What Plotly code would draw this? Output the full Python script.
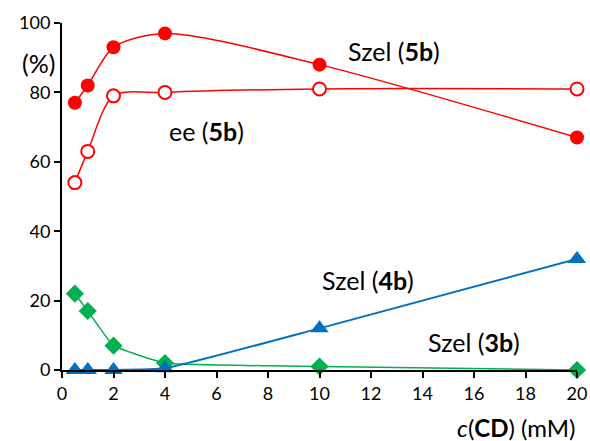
import plotly.graph_objects as go

conc = [0.5, 1, 2, 4, 10, 20]
szel_5b = [77, 82, 93, 97, 88, 67]
ee_5b = [54, 63, 79, 80, 81, 81]
szel_4b = [0, 0, 0, 0.5, 12, 32]
szel_3b = [22, 17, 7, 2, 1, 0]

x_ticks = list(range(0, 21, 2))
y_ticks = list(range(0, 101, 20))

FONT = "Lato"
RED = "#FF0000"
BLUE = "#0070C0"
GREEN = "#00B050"

fig = go.Figure()
fig.add_trace(go.Scatter(x=conc, y=szel_3b, mode="lines+markers",
                         line=dict(color=GREEN, width=1.5, shape="spline", smoothing=0.3),
                         marker=dict(symbol="diamond", size=14, color=GREEN),
                         cliponaxis=False))
fig.add_trace(go.Scatter(x=conc, y=szel_4b, mode="lines+markers",
                         line=dict(color=BLUE, width=2, shape="spline", smoothing=0.4),
                         marker=dict(symbol="triangle-up", size=16, color=BLUE),
                         cliponaxis=False))
fig.add_trace(go.Scatter(x=conc, y=ee_5b, mode="lines+markers",
                         line=dict(color=RED, width=1.5, shape="spline", smoothing=0.8),
                         marker=dict(symbol="circle", size=13, color="white",
                                     line=dict(color=RED, width=2)),
                         cliponaxis=False))
fig.add_trace(go.Scatter(x=conc, y=szel_5b, mode="lines+markers",
                         line=dict(color=RED, width=1.5, shape="spline", smoothing=0.8),
                         marker=dict(symbol="circle", size=14, color=RED),
                         cliponaxis=False))

ann_font = dict(family=FONT, size=25, color="black")
# plot area in pixels: x 62..577, y 23..370
annotations = [
    dict(x=12.9, y=92, xref="x", yref="y", text="Szel (<b>5b</b>)", showarrow=False, font=ann_font),
    dict(x=5.6, y=69, xref="x", yref="y", text="ee (<b>5b</b>)", showarrow=False, font=ann_font),
    dict(x=11.9, y=26, xref="x", yref="y", text="Szel (<b>4b</b>)", showarrow=False, font=ann_font),
    dict(x=16.0, y=8, xref="x", yref="y", text="Szel (<b>3b</b>)", showarrow=False, font=ann_font),
    dict(x=(38 - 62) / 515, y=(370 - 63) / 347, xref="paper", yref="paper",
         xanchor="center", yanchor="middle",
         text="(%)", showarrow=False, font=ann_font),
    dict(x=1.0, y=(370 - 427) / 347, xref="paper", yref="paper", xanchor="right", yanchor="middle",
         text="<i>c</i>(<b>CD</b>) (mM)", showarrow=False, font=dict(family=FONT, size=24, color="black")),
]

fig.update_layout(
    width=590, height=441,
    margin=dict(l=62, r=13, t=23, b=71, autoexpand=False),
    paper_bgcolor="white", plot_bgcolor="white",
    showlegend=False,
    font=dict(family=FONT, size=18, color="black"),
    annotations=annotations,
    xaxis=dict(range=[0, 20], tickvals=x_ticks, showgrid=False, zeroline=False,
               showline=True, linecolor="black", linewidth=2, automargin=False,
               ticks="outside", ticklen=6, tickwidth=2, tickcolor="black",
               tickfont=dict(family=FONT, size=18)),
    yaxis=dict(range=[0, 100], tickvals=y_ticks, showgrid=False, zeroline=False,
               showline=True, linecolor="black", linewidth=2, automargin=False,
               ticks="outside", ticklen=6, tickwidth=2, tickcolor="black",
               tickfont=dict(family=FONT, size=18)),
)

fig.write_html("out.html", config={"displayModeBar": False},
               post_script="document.body.style.margin='0';document.body.style.overflow='hidden';")
